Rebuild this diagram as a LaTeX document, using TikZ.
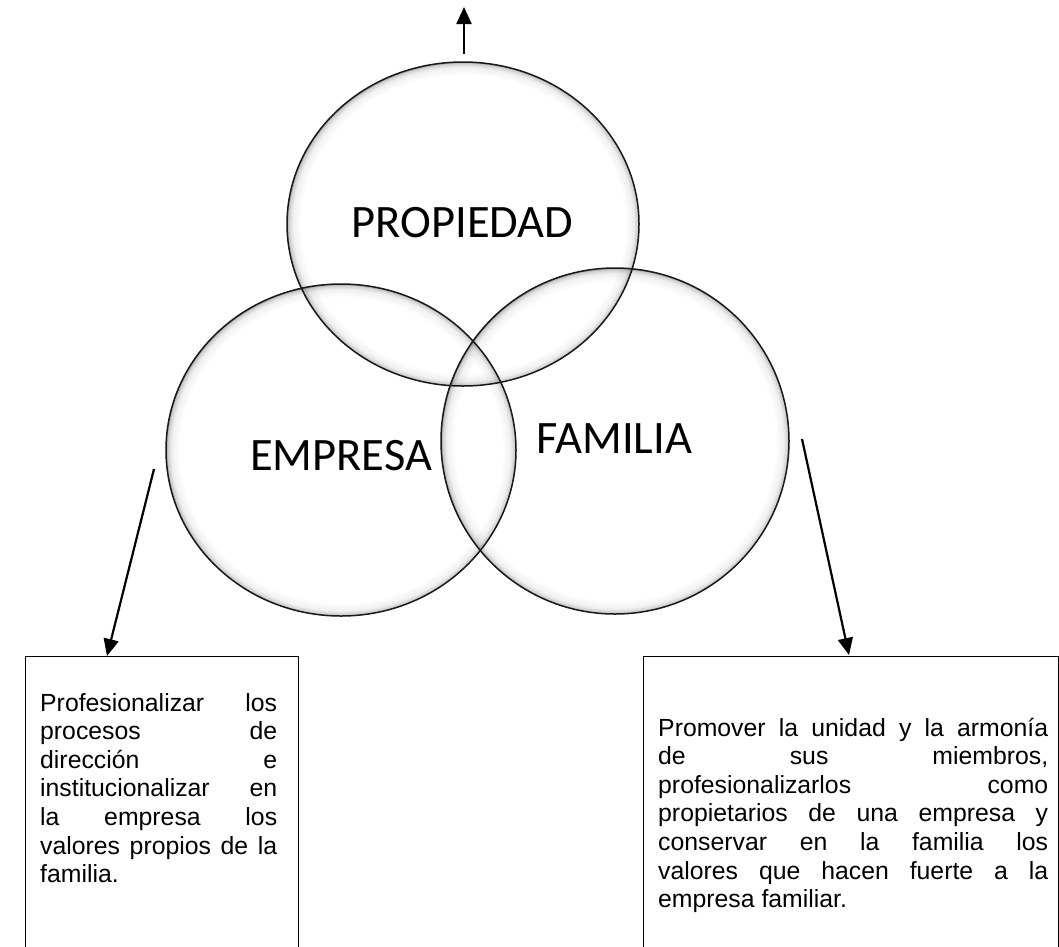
\documentclass[tikz,border=0pt]{standalone}
\usepackage{fontspec}
\setmainfont{Liberation Sans}
\newfontfamily\carl{Carlito}
\usetikzlibrary{arrows.meta}
\pgfdeclareradialshading{glow}{\pgfpoint{0bp}{0bp}}{color(0bp)=(white); color(23.0bp)=(white); color(24.2bp)=(black!6); color(24.8bp)=(black!20); color(25bp)=(black!40); color(50bp)=(black!40)}
\newcommand\jL[1]{\hbox to 237pt{#1}}
\newcommand\jR[1]{\hbox to 390pt{#1}}
\newcommand\gap{\hspace{0pt plus 1fill}}
\begin{document}
\begin{tikzpicture}[x=1pt,y=-1pt,
  ring/.style={draw=black!90, line width=1.5pt},
  lbl/.style={font=\carl\fontsize{46.5}{50}\selectfont, inner sep=0pt, anchor=base},
  arr/.style={line width=2.2pt, -{Triangle[width=15pt,length=17pt]}},
  txtbox/.style={draw=black, line width=1.2pt, anchor=north west, inner sep=0pt},
  para/.style={font=\fontsize{24.8}{28.6}\selectfont, inner sep=0pt, anchor=base west}
]
\useasboundingbox (0,0) rectangle (1059,946);
% circle centres
\coordinate (cprop) at (463,224);
\coordinate (cemp) at (341,450);
\coordinate (cfam) at (615,441);
% inner glow
\begin{scope}[blend mode=multiply]
\path[shading=glow] (cprop) ellipse [x radius=176, y radius=162];
\path[shading=glow] (cemp) ellipse [x radius=175, y radius=166];
\path[shading=glow] (cfam) ellipse [x radius=174, y radius=173];
\end{scope}
% outlines
\draw[ring] (cprop) ellipse [x radius=176, y radius=162];
\draw[ring] (cemp) ellipse [x radius=175, y radius=166];
\draw[ring] (cfam) ellipse [x radius=174, y radius=173];
% labels
\node[lbl] (prop) at (462.5,237) {PROPIEDAD};
\node[lbl] (emp) at (341,470) {EMPRESA};
\node[lbl] (fam) at (614.5,453) {FAMILIA};
% boxes
\node[txtbox, minimum width=273pt, minimum height=330pt] (lbox) at (25,656) {};
\node[txtbox, minimum width=414.5pt, minimum height=330pt] (rbox) at (643,656) {};
% texts
\node[para] (ltext) at (40,711) {\vtop{%
\jL{Profesionalizar\gap los}%
\jL{procesos\gap de}%
\jL{dirección\gap e}%
\jL{institucionalizar\gap en}%
\jL{la\gap empresa\gap los}%
\jL{valores\gap propios\gap de\gap la}%
\hbox{familia.}}};
\node[para] (rtext) at (658,736) {\vtop{%
\jR{Promover\gap la\gap unidad\gap y\gap la\gap armonía}%
\jR{de\gap sus\gap miembros,}%
\jR{profesionalizarlos\gap como}%
\jR{propietarios\gap de\gap una\gap empresa\gap y}%
\jR{conservar\gap en\gap la\gap familia\gap los}%
\jR{valores\gap que\gap hacen\gap fuerte\gap a\gap la}%
\hbox{empresa familiar.}}};
% arrows
\coordinate (tstart) at (464,54);
\coordinate (tend) at (464,7);
\coordinate (lstart) at (154,469);
\coordinate (lend) at (107,656);
\coordinate (rstart) at (802,439);
\coordinate (rend) at (849,655);
\draw[arr] (tstart) -- (tend);
\draw[arr] (lstart) -- (lend);
\draw[arr] (rstart) -- (rend);
\end{tikzpicture}
\end{document}
